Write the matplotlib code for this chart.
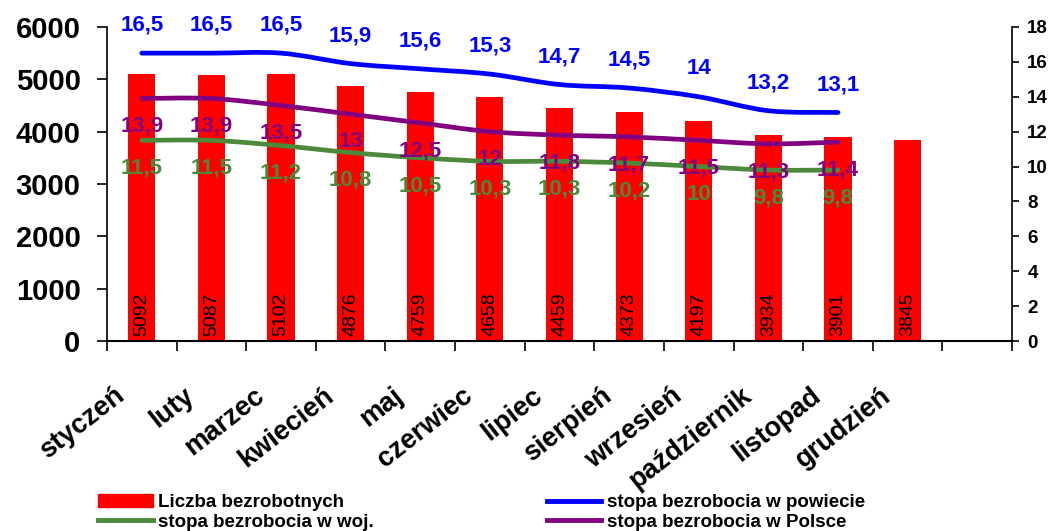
import numpy as np
import matplotlib
matplotlib.use('Agg')
import matplotlib.pyplot as plt
from matplotlib.path import Path
from matplotlib.patches import PathPatch, Patch
from matplotlib.lines import Line2D
from matplotlib.transforms import ScaledTranslation

plt.rcParams['font.family'] = ['Liberation Sans', 'DejaVu Sans']

# dane
miesiace = ['styczeń', 'luty', 'marzec', 'kwiecień', 'maj', 'czerwiec', 'lipiec',
            'sierpień', 'wrzesień', 'październik', 'listopad', 'grudzień', '']
bezrobotni = [5092, 5087, 5102, 4876, 4759, 4658, 4459, 4373, 4197, 3934, 3901, 3845]
stopa_powiat = [16.5, 16.5, 16.5, 15.9, 15.6, 15.3, 14.7, 14.5, 14.0, 13.2, 13.1]
stopa_woj = [11.5, 11.5, 11.2, 10.8, 10.5, 10.3, 10.3, 10.2, 10.0, 9.8, 9.8]
stopa_polska = [13.9, 13.9, 13.5, 13.0, 12.5, 12.0, 11.8, 11.7, 11.5, 11.3, 11.4]

RED = '#FF0000'
BLUE = '#0000FF'
GREEN = '#4A8A3A'
PURPLE = '#800080'


def smooth_path(xs, ys):
    # gladka krzywa przez punkty (jak w Excelu)
    pts = np.column_stack([xs, ys]).astype(float)
    n = len(pts)
    verts = [pts[0]]
    codes = [Path.MOVETO]
    for i in range(n - 1):
        p0 = pts[max(i - 1, 0)]
        p1 = pts[i]
        p2 = pts[i + 1]
        p3 = pts[min(i + 2, n - 1)]
        verts += [p1 + (p2 - p0) / 6, p2 - (p3 - p1) / 6, p2]
        codes += [Path.CURVE4] * 3
    return Path(verts, codes)


def fmt(v):
    return f"{v:g}".replace('.', ',')


fig = plt.figure(figsize=(10.53, 5.31), dpi=100)
ax = fig.add_axes([0.1016, 0.3578, 0.8595, 0.5914])
ax2 = ax.twinx()

x = np.arange(len(miesiace))
ax.bar(x[:len(bezrobotni)], bezrobotni, width=0.39, color=RED, zorder=2)
for xi, v in zip(x, bezrobotni):
    ax.text(xi, 100, str(v), rotation=90, ha='center', va='bottom',
            fontsize=14, color='black')

ax.set_xlim(-0.5, len(miesiace) - 0.5)
ax.set_ylim(0, 6000)
ax.set_yticks(range(0, 6001, 1000))
ax.tick_params(axis='y', labelsize=21, length=7, width=1.2, pad=12)
for lbl in ax.get_yticklabels():
    lbl.set_fontweight('bold')

ax.set_xticks(x)
ax.set_xticklabels(miesiace, rotation=38, ha='right', rotation_mode='anchor',
                   fontsize=19.5, fontweight='bold')
ax.set_xticks(np.arange(-0.5, len(miesiace), 1.0), minor=True)
ax.tick_params(axis='x', which='major', length=0, pad=30)
ax.tick_params(axis='x', which='minor', length=7, width=1.2)
off = ScaledTranslation(-0.28, 0, fig.dpi_scale_trans)
for lbl in ax.get_xticklabels():
    lbl.set_transform(lbl.get_transform() + off)

for s in ['top', 'right']:
    ax.spines[s].set_visible(False)
ax.spines['left'].set_linewidth(1.2)
ax.spines['bottom'].set_linewidth(1.5)

ax2.set_ylim(0, 18)
ax2.set_yticks(range(0, 19, 2))
ax2.tick_params(axis='y', labelsize=13.5, length=5, width=1.2, pad=6)
for lbl in ax2.get_yticklabels():
    lbl.set_fontweight('bold')
for s in ['top', 'left', 'bottom']:
    ax2.spines[s].set_visible(False)
ax2.spines['right'].set_linewidth(1.2)

xl = x[:len(stopa_powiat)]
series = [(stopa_powiat, BLUE, 20), (stopa_polska, PURPLE, -20), (stopa_woj, GREEN, -20)]
for vals, col, dy in series:
    ax2.add_patch(PathPatch(smooth_path(xl, vals), fill=False, edgecolor=col,
                            lw=3.4, capstyle='round', joinstyle='round', zorder=3))
    for xi, v in zip(xl, vals):
        ax2.annotate(fmt(v), (xi, v), xytext=(0, dy), textcoords='offset points',
                     ha='center', va='center', fontsize=16, fontweight='bold',
                     color=col, zorder=4)

handles = [Patch(color=RED), Line2D([], [], color=GREEN, lw=3.5),
           Line2D([], [], color=BLUE, lw=3.5), Line2D([], [], color=PURPLE, lw=3.5)]
labels = ['Liczba bezrobotnych', 'stopa bezrobocia w woj.',
          'stopa bezrobocia w powiecie', 'stopa bezrobocia w Polsce']
fig.legend(handles, labels, ncol=2, loc='lower left', bbox_to_anchor=(0.081, -0.024),
           frameon=False, prop={'size': 13.5, 'weight': 'bold'}, handlelength=2.9,
           handletextpad=0.3, labelspacing=0.12, columnspacing=9.2, borderpad=0.2)

fig.savefig('out.png', dpi=100)
